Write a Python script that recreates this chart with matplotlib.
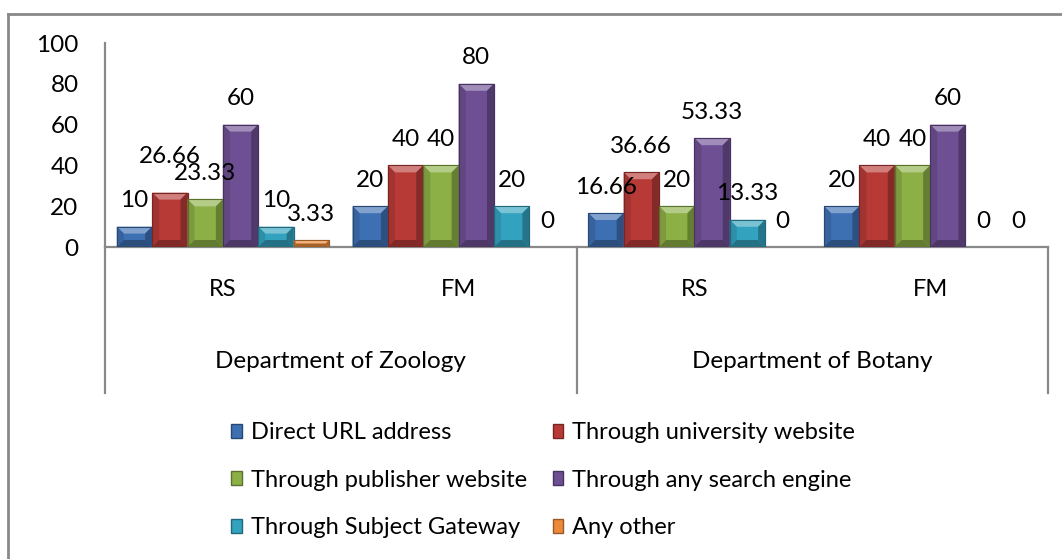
import matplotlib
matplotlib.use("Agg")
import matplotlib.pyplot as plt
from matplotlib.patches import Polygon, Rectangle
from matplotlib.lines import Line2D
import matplotlib.colors as mcolors
import numpy as np

plt.rcParams['font.family'] = ['Lato', 'DejaVu Sans']

# ---- data ----
subgroups = ["RS", "FM", "RS", "FM"]
departments = ["Department of Zoology", "Department of Botany"]
series_names = ["Direct URL address", "Through university website",
                "Through publisher website", "Through any search engine",
                "Through Subject Gateway", "Any other"]
direct_url = [10, 20, 16.66, 20]
university_site = [26.66, 40, 36.66, 40]
publisher_site = [23.33, 40, 20, 40]
search_engine = [60, 80, 53.33, 60]
subject_gateway = [10, 20, 13.33, 0]
any_other = [3.33, 0, 0, 0]
label_text = [
    ["10", "20", "16.66", "20"],
    ["26.66", "40", "36.66", "40"],
    ["23.33", "40", "20", "40"],
    ["60", "80", "53.33", "60"],
    ["10", "20", "13.33", "0"],
    ["3.33", "0", "0", "0"],
]
yticks = [0, 20, 40, 60, 80, 100]

series = [direct_url, university_site, publisher_site, search_engine,
          subject_gateway, any_other]
colors = ["#3D6FB3", "#B73A37", "#8CB046", "#6E4F93", "#33A2BF", "#EC8A3A"]

W, H = 1062, 559
fig = plt.figure(figsize=(W / 100, H / 100), dpi=100)

def fx(px):
    return px / W

def fy(py):
    return 1 - py / H

ax_l, ax_r, ax_t, ax_b = 105, 1048, 43, 247
ax = fig.add_axes([fx(ax_l), fy(ax_b), fx(ax_r - ax_l), (ax_b - ax_t) / H])
ax.set_xlim(-0.5, len(subgroups) - 0.5)
ax.set_ylim(0, 100)
for s in ["top", "right"]:
    ax.spines[s].set_visible(False)
ax.spines["left"].set_visible(False)
ax.spines["bottom"].set_color("#898989")
ax.spines["bottom"].set_linewidth(1.6)
ax.set_xticks([])
ax.set_yticks(yticks)
ax.set_yticklabels([str(v) for v in yticks], fontsize=17.5)
ax.tick_params(axis="y", length=0, pad=19)
ax.patch.set_alpha(0)

n = len(series)
bw = 0.9 / n
x = np.arange(len(subgroups))

px_per_x = (ax_r - ax_l) / (len(subgroups))
px_per_y = (ax_b - ax_t) / 100.0

def shade(c, f):
    r, g, b = mcolors.to_rgb(c)
    if f >= 0:
        return (r + (1 - r) * f, g + (1 - g) * f, b + (1 - b) * f)
    f = -f
    return (r * (1 - f), g * (1 - f), b * (1 - f))

nudge = {(1, 0): 10}

for i, (vals, col) in enumerate(zip(series, colors)):
    xs = x - 0.45 + bw * (i + 0.5)
    bars = ax.bar(xs, vals, width=bw, color=col, edgecolor=shade(col, -0.35),
                  linewidth=0.8, zorder=2)
    for j, (b, v) in enumerate(zip(bars, vals)):
        x0 = b.get_x()
        w = b.get_width()
        h = b.get_height()
        if h > 0:
            bpx = min(7.0, h * px_per_y / 2.0)
            dy = bpx / px_per_y
            dx = min(7.0, bpx) / px_per_x
            top = Polygon([(x0, h), (x0 + w, h), (x0 + w - dx, h - dy), (x0 + dx, h - dy)],
                          closed=True, facecolor=shade(col, 0.35), edgecolor="none", zorder=3)
            left = Polygon([(x0, 0), (x0, h), (x0 + dx, h - dy), (x0 + dx, dy)],
                           closed=True, facecolor=shade(col, -0.12), edgecolor="none", zorder=3)
            right = Polygon([(x0 + w, 0), (x0 + w, h), (x0 + w - dx, h - dy), (x0 + w - dx, dy)],
                            closed=True, facecolor=shade(col, -0.28), edgecolor="none", zorder=3)
            bot = Polygon([(x0, 0), (x0 + w, 0), (x0 + w - dx, dy), (x0 + dx, dy)],
                          closed=True, facecolor=shade(col, -0.3), edgecolor="none", zorder=3)
            for p in (top, left, right, bot):
                ax.add_patch(p)
            ax.add_patch(Rectangle((x0, 0), w, h, facecolor="none",
                                   edgecolor=shade(col, -0.35), linewidth=0.8, zorder=4))
        off = 26 + nudge.get((i, j), 0)
        ax.annotate(label_text[i][j], (x0 + w / 2, v), xytext=(0, off * 72 / 100),
                    textcoords="offset points", ha="center", va="center",
                    fontsize=17.5, color="black", zorder=5, annotation_clip=False)

# category axis (multi-level)
gray = "#898989"
fig.add_artist(Line2D([fx(ax_l), fx(ax_l)], [fy(ax_t), fy(393)], color=gray, lw=1.6))
trans = matplotlib.transforms.blended_transform_factory(ax.transData, fig.transFigure)
for sep in [1.5, 3.5]:
    fig.add_artist(Line2D([sep, sep], [fy(ax_b), fy(393)], color=gray, lw=1.6,
                          transform=trans))
for j, lab in enumerate(subgroups):
    fig.text(j, fy(290), lab, transform=trans, ha="center", va="center", fontsize=17)
for k, dep in enumerate(departments):
    fig.text(2 * k + 0.5, fy(362), dep, transform=trans, ha="center", va="center",
             fontsize=17.5)

# outer frame (partially visible)
fig.add_artist(Line2D([fx(8), fx(8)], [fy(14), fy(559)], color=gray, lw=2))
fig.add_artist(Line2D([fx(8), fx(1062)], [fy(14), fy(14)], color=gray, lw=2))

# legend
order = [0, 2, 4, 1, 3, 5]
handles = [Rectangle((0, 0), 1, 1, facecolor=colors[k], edgecolor=shade(colors[k], -0.35))
           for k in order]
labels = [series_names[k] for k in order]
fig.legend(handles, labels, ncol=2, loc="upper left",
           bbox_to_anchor=(fx(231), fy(422)), frameon=False, fontsize=17,
           handlelength=0.45, handleheight=0.55, handletextpad=0.38,
           columnspacing=1.1, labelspacing=1.13, borderpad=0, borderaxespad=0)

fig.savefig("out.png", dpi=100)
